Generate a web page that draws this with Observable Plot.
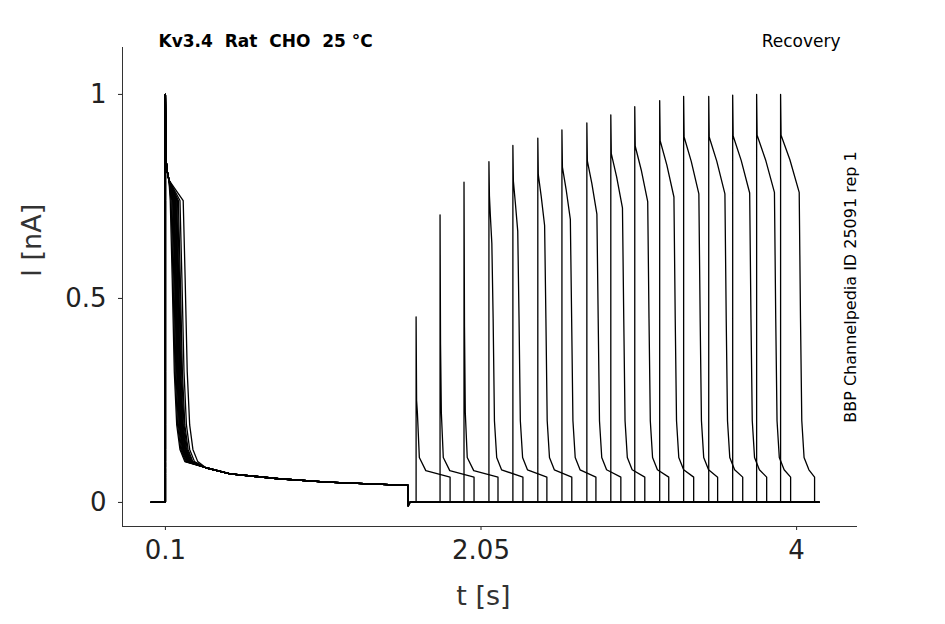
<!DOCTYPE html>
<html><head><meta charset="utf-8">
<script src="https://cdn.jsdelivr.net/npm/d3@7"></script>
<script src="https://cdn.jsdelivr.net/npm/@observablehq/plot@0.6"></script>
<style>body{margin:0;background:#fff}</style>
</head><body><div id="c"></div>
<script>
const xTicks = [0.1, 2.05, 4];
const yTicks = [0, 0.5, 1];
// first pulse: per-sweep offset (s) of steep inactivation fall
const firstDrop = [0.03,0.035,0.04,0.045,0.048,0.05,0.053,0.056,0.06,0.063,0.066,0.07,0.075,0.08,0.09,0.11];
const firstShape = [[0,0],[0,1.0],[0.004,0.84],[0.012,0.81],[0.022,0.79]];
const firstFall = [[0,0.74],[0.012,0.55],[0.025,0.32],[0.04,0.19],[0.06,0.13],[0.09,0.1]];
const firstTail = [[0.35,0.085],[0.5,0.07],[0.8,0.058],[1.1,0.05],[1.4,0.045],[1.6,0.042]];
const firstEnd = 1.6;
// second pulses
const secondStart = [1.649,1.797,1.945,2.099,2.247,2.401,2.550,2.704,2.852,3.000,3.154,3.302,3.457,3.605,3.753,3.901];
const secondPeak  = [0.455,0.705,0.785,0.835,0.875,0.893,0.913,0.93,0.95,0.97,0.985,0.995,0.995,0.998,1.0,1.0];
const secondDrop  = [0.002,0.004,0.008,0.018,0.03,0.042,0.052,0.062,0.072,0.08,0.088,0.094,0.1,0.105,0.11,0.115];
const secondLen = 0.21;
const sweepEnd = 4.14;

const pts = [];
firstDrop.forEach((d, i) => {
  const s = secondStart[i], p = secondPeak[i], sd = secondDrop[i];
  const add = (t, v) => pts.push({sweep: i, t, v});
  add(0.01, 0); add(0.1, 0);
  firstShape.forEach(([o, v]) => add(0.1 + o, v));
  firstFall.forEach(([o, v]) => add(0.1 + d + o, v));
  firstTail.forEach(([t, v]) => add(t, v));
  add(firstEnd, -0.008); add(firstEnd + 0.01, 0);
  add(s, 0); add(s, p);
  if (sd > 0.01) {
    add(s + 0.003, p * 0.9); add(s + sd * 0.5, p * 0.84); add(s + sd, p * 0.76);
    add(s + sd + 0.008, 0.45); add(s + sd + 0.016, 0.2); add(s + sd + 0.03, 0.11); add(s + sd + 0.06, 0.08);
  } else {
    add(s + 0.003, p * 0.55); add(s + 0.008, 0.22); add(s + 0.02, 0.11); add(s + 0.06, 0.078);
  }
  add(s + secondLen, 0.062);
  add(s + secondLen, 0); add(sweepEnd, 0);
});

const font = "DejaVu Sans, sans-serif";
const chart = Plot.plot({
  width: 945, height: 624,
  marginLeft: 122, marginRight: 89, marginTop: 47, marginBottom: 98,
  style: {fontFamily: font, color: "#222", background: "#fff"},
  x: {domain: [-0.165, 4.37], label: null},
  y: {domain: [-0.059, 1.115], label: null},
  marks: [
    Plot.axisX({ticks: xTicks, tickFormat: d => String(d), fontSize: 26, tickSize: 4, tickPadding: 10}),
    Plot.axisY({ticks: yTicks, tickFormat: d => String(d), fontSize: 26, tickSize: 4, tickPadding: 12}),
    Plot.frame({anchor: "left", stroke: "#333"}),
    Plot.frame({anchor: "bottom", stroke: "#333"}),
    Plot.line(pts, {x: "t", y: "v", z: "sweep", stroke: "black", strokeWidth: 1.3}),
    Plot.text(["Kv3.4  Rat  CHO  25 °C"], {frameAnchor: "top-left", dx: 36, dy: -13, fontSize: 17, fontWeight: "bold", fill: "black"}),
    Plot.text(["Recovery"], {frameAnchor: "top-right", dx: -16, dy: -13, fontSize: 17, fill: "black"}),
    Plot.text(["BBP Channelpedia ID 25091 rep 1"], {frameAnchor: "right", textAnchor: "middle", dx: -6, dy: 0, rotate: -90, fontSize: 16, fill: "black"}),
    Plot.text(["I [nA]"], {frameAnchor: "left", dx: -90, dy: -10, rotate: -90, fontSize: 27, fill: "#333"}),
    Plot.text(["t [s]"], {frameAnchor: "bottom", dx: -6, dy: 78, fontSize: 27, fill: "#333"})
  ]
});
document.getElementById("c").append(chart);
</script></body></html>
